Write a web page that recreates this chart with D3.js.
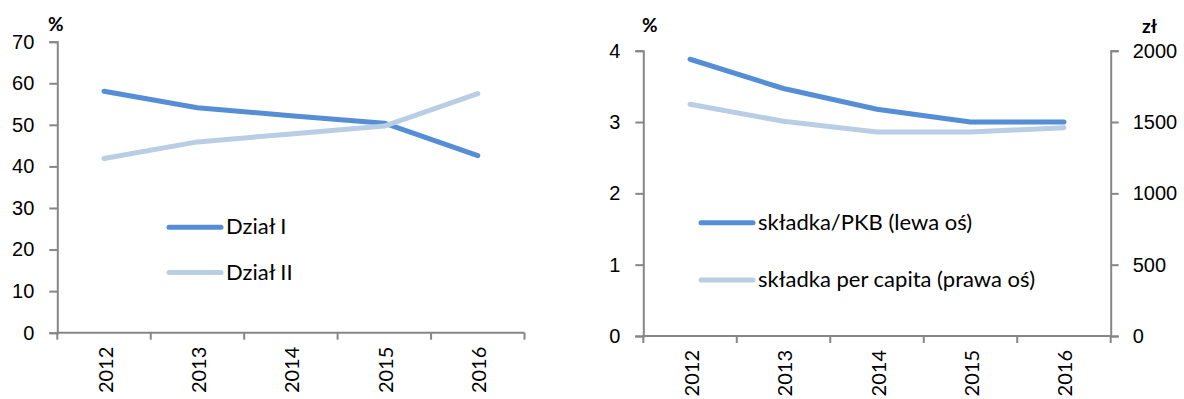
<!DOCTYPE html>
<html>
<head>
<meta charset="utf-8">
<script src="https://cdn.jsdelivr.net/npm/d3@7"></script>
<style>
  html, body { margin: 0; padding: 0; background: #fff; }
  svg { display: block; font-family: Lato, "Open Sans", sans-serif; }
</style>
</head>
<body>
<svg id="chart" width="1184" height="399"></svg>
<script>
// Years on the category axis
const years = ["2012", "2013", "2014", "2015", "2016"];

// Left panel: share of each section (%)
const dzialI = [58.1, 54.1, 52.2, 50.4, 42.6];
const dzialII = [41.9, 45.9, 47.8, 49.7, 57.5];
const leftTicks = [0, 10, 20, 30, 40, 50, 60, 70];
const leftNames = ["Dział I", "Dział II"];

// Right panel: premium to GDP (%) and premium per capita (zł)
const skladkaPKB = [3.88, 3.47, 3.18, 3.0, 3.0];
const skladkaPerCapita = [1625, 1505, 1430, 1430, 1460];
const rightTicksL = [0, 1, 2, 3, 4];
const rightTicksR = [0, 500, 1000, 1500, 2000];
const rightNames = ["składka/PKB (lewa oś)", "składka per capita (prawa oś)"];

const colDark = "#558ED5";
const colLight = "#B9CDE5";
const axisCol = "#868686";
const svg = d3.select("#chart");

function styleAxis(g) {
  g.select(".domain").attr("stroke", axisCol).attr("stroke-width", 2);
  g.selectAll(".tick line").attr("stroke", axisCol).attr("stroke-width", 2);
  g.selectAll(".tick text").attr("fill", "#000").style("font-size", "20px");
}

function xAxisCategories(g, x, y0, x0, x1) {
  // boundary ticks between categories
  const band = x.step();
  const edges = d3.range(years.length + 1).map(i => x0 + i * band);
  g.append("line").attr("x1", x0).attr("x2", x1).attr("y1", y0).attr("y2", y0)
    .attr("stroke", axisCol).attr("stroke-width", 2);
  g.selectAll("line.edge").data(edges).join("line").attr("class", "edge")
    .attr("x1", d => d).attr("x2", d => d).attr("y1", y0).attr("y2", y0 + 7)
    .attr("stroke", axisCol).attr("stroke-width", 2);
  g.selectAll("text.year").data(years).join("text").attr("class", "year")
    .attr("transform", d => `translate(${x(d) + x.bandwidth() / 2 + 8.5},${y0 + 14}) rotate(-90)`)
    .attr("text-anchor", "end").style("font-size", "20px").text(d => d);
}

function legend(g, items, x0, x1, ys) {
  items.forEach((it, i) => {
    g.append("line").attr("x1", x0).attr("x2", x1).attr("y1", ys[i]).attr("y2", ys[i])
      .attr("stroke", it.color).attr("stroke-width", 5).attr("stroke-linecap", "round");
    g.append("text").attr("x", x1 + 5).attr("y", ys[i] + 7)
      .style("font-size", "22px").text(it.name);
  });
}

function seriesPath(g, vals, x, y, color) {
  const line = d3.line()
    .x((d, i) => x(years[i]) + x.bandwidth() / 2)
    .y(d => y(d));
  g.append("path").datum(vals).attr("d", line).attr("fill", "none")
    .attr("stroke", color).attr("stroke-width", 5)
    .attr("stroke-linecap", "round").attr("stroke-linejoin", "round");
}

// ---------- Left panel ----------
{
  const x0 = 57.3, x1 = 524.5, yTop = 41.7, yBot = 332.7;
  const x = d3.scaleBand().domain(years).range([x0, x1]).paddingInner(0).paddingOuter(0);
  const y = d3.scaleLinear().domain([0, 70]).range([yBot, yTop]);
  const g = svg.append("g");

  g.append("g").attr("transform", `translate(${x0},0)`)
    .call(d3.axisLeft(y).tickValues(leftTicks).tickFormat(d3.format("d")).tickSize(8).tickPadding(15))
    .call(styleAxis);
  xAxisCategories(g.append("g"), x, yBot, x0, x1);

  g.append("text").attr("x", 48).attr("y", 31).style("font-size", "19px")
    .style("font-weight", "bold").text("%");

  seriesPath(g, dzialI, x, y, colDark);
  seriesPath(g, dzialII, x, y, colLight);

  legend(g, [{ name: leftNames[0], color: colDark }, { name: leftNames[1], color: colLight }],
    169, 221, [227.3, 272.5]);
}

// ---------- Right panel ----------
{
  const x0 = 643.3, x1 = 1110.7, yTop = 50.7, yBot = 336;
  const x = d3.scaleBand().domain(years).range([x0, x1]).paddingInner(0).paddingOuter(0);
  const yL = d3.scaleLinear().domain([0, 4]).range([yBot, yTop]);
  const yR = d3.scaleLinear().domain([0, 2000]).range([yBot, yTop]);
  const g = svg.append("g");

  g.append("g").attr("transform", `translate(${x0},0)`)
    .call(d3.axisLeft(yL).tickValues(rightTicksL).tickFormat(d3.format("d")).tickSize(8).tickPadding(15))
    .call(styleAxis);
  g.append("g").attr("transform", `translate(${x1},0)`)
    .call(d3.axisRight(yR).tickValues(rightTicksR).tickFormat(d3.format("d")).tickSize(8).tickPadding(14))
    .call(styleAxis);
  xAxisCategories(g.append("g"), x, yBot, x0, x1);

  g.append("text").attr("x", 642).attr("y", 32).style("font-size", "19px")
    .style("font-weight", "bold").text("%");
  g.append("text").attr("x", 1142).attr("y", 33).style("font-size", "19px")
    .style("font-weight", "bold").text("zł");

  seriesPath(g, skladkaPKB, x, yL, colDark);
  seriesPath(g, skladkaPerCapita, x, yR, colLight);

  legend(g, [{ name: rightNames[0], color: colDark }, { name: rightNames[1], color: colLight }],
    701, 753, [222.7, 280]);
}
</script>
</body>
</html>
